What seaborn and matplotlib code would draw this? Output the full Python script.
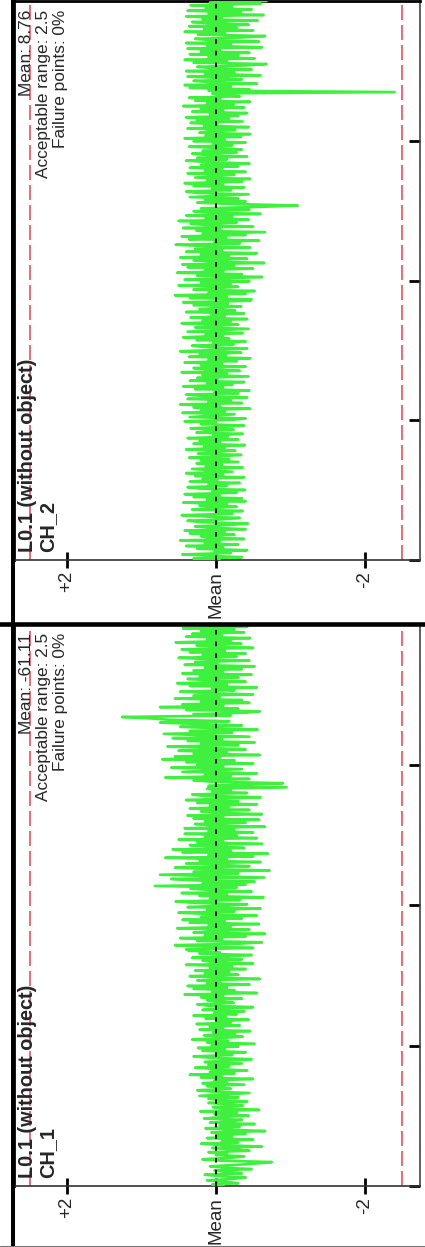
import matplotlib
matplotlib.use("Agg")
import matplotlib.pyplot as plt
import seaborn as sns
import numpy as np
from matplotlib.lines import Line2D

# ---------------- data (normalised deviation from mean, time order bottom->top) ----------------
ch1_values = [
    -0.10, 0.05, -0.30, -0.12, 0.12, -0.22, -0.40, -0.05, 0.15, -0.35, -0.18, 0.02, -0.48, -0.10, 0.08, -0.28, -0.55, -0.75, -0.05, 0.18,
    -0.20, -0.38, 0.00, -0.15, 0.10, -0.45, -0.25, 0.05, -0.62, -0.12, 0.20, -0.30, -0.08, -0.50, 0.12, -0.22, -0.02, -0.40, 0.06, -0.66,
    -0.15, 0.14, -0.32, -0.05, -0.52, 0.08, -0.20, -0.35, 0.16, -0.10, -0.44, 0.02, -0.28, 0.21, -0.58, -0.12, 0.04, -0.36, -0.18, 0.10,
    -0.42, -0.06,
    0.10, -0.30, 0.22, -0.12, -0.45, 0.05, 0.25, -0.20, -0.05, 0.12, -0.38, 0.18, -0.15, 0.02, -0.50, 0.20, -0.08, 0.35, -0.25, 0.08,
    -0.42, -0.02, 0.28, -0.18, 0.10, -0.35, 0.15, -0.10, -0.48, 0.05, 0.30, -0.22, 0.00, -0.40, 0.18, -0.12, 0.24, -0.30, 0.06, -0.52,
    0.12, -0.16, 0.32, -0.05, -0.36, 0.16, -0.26, 0.04, -0.46, 0.22, -0.10, 0.08, -0.32, 0.26, -0.20, -0.02, -0.44, 0.14, -0.14, 0.30,
    -0.28, 0.02, -0.38, 0.18, -0.06, -0.50, 0.10, 0.25, -0.24, -0.04, 0.12,
    -0.35, 0.20, -0.10, 0.42, -0.55, 0.05, -0.25, 0.30, -0.15, 0.38, -0.45, 0.12, -0.05, 0.25, -0.59, 0.00, 0.35, -0.30, 0.15, -0.18,
    0.28, -0.40, 0.08, -0.22, 0.40, -0.50, 0.02, 0.18, -0.35, 0.32, -0.12, -0.48, 0.22, -0.05, 0.36,
    0.40, -0.50, 0.10, 0.55, -0.30, -0.62, 0.25, -0.08, 0.48, -0.40, 0.15, -0.66, 0.30, 0.02, -0.45, 0.52, -0.20, 0.10, -0.58, 0.35,
    -0.12, 0.45, -0.35, 0.20, -0.55, 0.05, 0.50, -0.25, 0.12, -0.60, 0.38, -0.05, -0.42, 0.28, 0.54, -0.32, 0.08, -0.64, 0.22, -0.15,
    0.46, -0.48, 0.00, 0.34, -0.28, 0.82, -0.40, 0.18, -0.52, 0.30,
    0.60, -0.65, 0.05, 0.75, -0.30, 0.30, -0.72, 0.12, 0.55, -0.45, -0.05, 0.40, -0.60, 0.22, -0.15, 0.68, -0.50, 0.10, -0.70, 0.45,
    -0.20, 0.58, -0.38, 0.02, 0.35, -0.62, 0.25, -0.10, 0.50, -0.55, 0.15, -0.28, 0.42,
    -0.50, 0.10, -0.25, 0.42, -0.66, 0.05, 0.28, -0.40, 0.15, -0.58, 0.30, -0.10, 0.38, -0.62, 0.00, 0.20, -0.45, 0.35, -0.18, 0.08,
    -0.55, 0.25, -0.30, 0.40, -0.08, -0.60, 0.18, 0.32, -0.42, 0.05, -0.20, 0.12,
    -0.95, 0.10, -0.30, -0.90, 0.05,
    0.30, -0.45, 0.68, -0.20, 0.15, -0.55, 0.45, 0.05, -0.35, 0.60, -0.10, 0.25, -0.50, 0.40, -0.25, 0.72, -0.05, 0.55, -0.59, 0.30,
    -0.15, 0.50, -0.40, 0.10, 0.65, -0.30, 0.20, -0.52, 0.38, -0.08, 0.58, -0.45, 0.12, 0.70, -0.22, 0.35, -0.56, 0.02, 0.48, -0.35,
    0.25, 0.75, -0.18, 0.62, 0.89,
    1.26,
    -0.20, 0.30, -0.40, -0.59, 0.40, -0.30, 0.75, -0.10, 0.45, -0.45, 0.20, -0.35, 0.55, -0.05, 0.30, -0.50, 0.15, 0.48, -0.25, 0.05,
    -0.55, 0.35, -0.15, 0.52, -0.40, 0.10, 0.38, -0.30, 0.22, -0.48, 0.45, -0.10, 0.30, -0.35, 0.15, -0.52, 0.42, -0.02, 0.28, -0.45,
    0.08, 0.50, -0.28, 0.18, -0.40, 0.35, -0.12, 0.46, -0.50, 0.02, 0.26, -0.34, 0.54, -0.20, 0.12, -0.46, 0.40, -0.08, 0.32, -0.38,
    0.20, -0.25, 0.44, -0.42, 0.10, -0.15,
]

ch2_values = [
    -0.05, 0.30, -0.35, 0.10, 0.45, -0.20, 0.02, -0.42, 0.25, -0.10, 0.40, -0.30, 0.15, -0.05, 0.48, -0.38, 0.08, 0.20, -0.25, 0.35,
    -0.12, 0.42, -0.40, 0.05, 0.28, -0.18, -0.43, 0.18, 0.38, -0.08, -0.32, 0.12, 0.46, -0.22, 0.00, -0.36, 0.32, 0.10, -0.28, 0.22,
    -0.15, 0.44, -0.40,
    0.12, -0.35, 0.30, -0.05, 0.42, -0.28, 0.05, -0.39, 0.22, 0.38, -0.15, 0.10, -0.32, 0.35, -0.02, 0.18, -0.38, 0.28, -0.10, 0.40,
    -0.22, 0.06, 0.32, -0.36, 0.14, -0.08, 0.26, -0.30, 0.20, -0.18, 0.36, -0.02, -0.34, 0.24, 0.08, -0.26, 0.40, -0.12, 0.16, -0.39,
    0.30, -0.06, 0.22, -0.30, 0.38, -0.16, 0.04, -0.36, 0.26, 0.12, -0.24, 0.34, -0.10, -0.38, 0.20, 0.00, 0.42, -0.20,
    -0.40, 0.35, 0.05, -0.25, 0.45, -0.12, 0.20, -0.46, 0.30, -0.05, 0.48, -0.35, 0.10, -0.20, 0.38, -0.42, 0.15, 0.40, -0.30, 0.02,
    -0.45, 0.28, -0.10, 0.44, -0.22, 0.12, -0.38, 0.35, -0.02, 0.25, -0.44, 0.18, -0.15, 0.46, -0.32, 0.08, 0.30, -0.40, 0.20, -0.08,
    0.42, -0.28, 0.10, -0.46, 0.36, -0.14, 0.22, -0.34, 0.48, -0.06, -0.42, 0.16, 0.32, -0.24, 0.04, -0.40, 0.26, -0.18, 0.44, -0.10,
    0.14, -0.36, 0.38, -0.02, -0.44, 0.28, 0.08, -0.30, 0.46, -0.20, 0.18, -0.42, 0.34, -0.12, 0.06, -0.38, 0.40, -0.26, 0.22, -0.04,
    -0.34, 0.30, -0.16, 0.44, -0.46,
    -0.48, 0.35, -0.15, 0.55, -0.40, 0.10, -0.52, 0.30, 0.05, -0.30, 0.50, -0.20, 0.20, -0.45, 0.42, -0.05, -0.62, 0.25, -0.35, 0.52,
    -0.10, 0.15, -0.50, 0.38, -0.25, 0.45, -0.65, 0.05, 0.30, -0.42, 0.48, -0.18, 0.20, -0.55, 0.40, -0.08, 0.28, -0.46, 0.12, 0.54,
    -0.32, 0.02, -0.58, 0.36, -0.14, 0.46, -0.40, 0.18, -0.66, 0.26, -0.06, 0.44, -0.50, 0.08, 0.34, -0.28, 0.50, -0.44, 0.14, -0.22,
    0.40, -0.60, 0.06, 0.30,
    -0.45, 0.20, -0.55, -1.10, -0.30, 0.25, -0.40, 0.15,
    -0.30, 0.35, -0.05, -0.44, 0.25, 0.40, -0.20, 0.05, -0.38, 0.30, -0.10, 0.42, -0.35, 0.12, -0.46, 0.28, 0.02, -0.25, 0.38, -0.40,
    0.15, -0.08, 0.35, -0.30, 0.20, -0.45, 0.08, 0.40, -0.15, 0.25, -0.42, 0.10, 0.32, -0.28, 0.18, -0.35, -0.05, 0.36, -0.22, 0.04,
    -0.40, 0.30, -0.12, 0.42, -0.34, 0.14, -0.46, 0.22, 0.06, -0.26, 0.38, -0.44, 0.16, -0.02, 0.34, -0.36, 0.26, -0.18, 0.40, -0.30,
    0.08, -0.42, 0.32, -0.10, 0.20, -0.38, 0.44, -0.24, 0.12, -0.46, 0.28, -0.06, 0.36, -0.32, -0.05, 0.05,
    -2.40,
    0.10, -0.45, 0.35, -0.20, 0.42, -0.55, 0.05, 0.30, -0.35, -0.10, 0.38, -0.60, 0.15, -0.25, 0.40, -0.48, 0.02, 0.25, -0.40, -0.68,
    0.30, -0.15, 0.42, -0.52, 0.10, -0.30, 0.35, -0.45, 0.20, -0.05, 0.38, -0.62, 0.12, -0.20, 0.40, -0.58, 0.06, 0.28, -0.36, -0.66,
    0.24, -0.12, 0.42, -0.50, 0.16, -0.28, 0.36, -0.44, 0.04, 0.32, -0.56, 0.18, -0.08, 0.40, -0.64, 0.10, -0.34, 0.38, -0.48, 0.14,
    -0.22, 0.34, -0.60, 0.08, -0.68,
]

channels = ["CH_1", "CH_2"]
titles = ["L0.1 (without object)", "L0.1 (without object)"]
mean_texts = ["Mean: -61.11", "Mean: 8.76"]
acceptable_range = 2.5
failure_texts = ["Failure points: 0%", "Failure points: 0%"]
tick_values = [2, 0, -2]
tick_labels = ["+2", "Mean", "-2"]

# ---------------- style ----------------
sns.set_style("white")
plt.rcParams["font.family"] = ["Liberation Sans", "DejaVu Sans"]

W, H = 425, 1247
fig = plt.figure(figsize=(W / 100, H / 100), dpi=100)
fig.patch.set_facecolor("white")

def fx(px):
    return px / W

def fy(py):
    return (H - py) / H

GREEN = "#3ff03f"
RED = "#e25563"

# panel placement in pixel rows: (top, bottom of plotting area)
panel_rows = {"CH_1": (624, 1186), "CH_2": (1, 560)}
series = {"CH_1": ch1_values, "CH_2": ch2_values}

for ch, title, mtxt, ftxt in zip(channels, titles, mean_texts, failure_texts):
    top, bot = panel_rows[ch]
    ax = fig.add_axes([fx(14), fy(bot), fx(420) - fx(14), fy(top) - fy(bot)])
    vals = np.array(series[ch])
    t = np.arange(len(vals))

    ax.axvline(acceptable_range, color=RED, lw=1.2, ls=(0, (9, 3)), zorder=1)
    ax.axvline(-acceptable_range, color=RED, lw=1.2, ls=(0, (9, 3)), zorder=1)
    sns.lineplot(x=vals, y=t, sort=False, estimator=None, color=GREEN, lw=1.9, ax=ax, zorder=3)
    ax.axvline(0, color="black", lw=1.3, ls=(0, (2.5, 4)), zorder=4)

    ax.set_xlim(2.71, -2.74)
    ax.set_ylim(0, len(vals) - 1)
    ax.set_xlabel("")
    ax.set_ylabel("")
    ax.set_xticks(tick_values)
    ax.set_xticklabels(tick_labels, rotation=90, fontsize=13.5)
    ax.tick_params(axis="x", direction="inout", length=12, width=2, color="black", pad=2,
                   bottom=True, labelbottom=True)
    yt = (len(vals) - 1) * np.array([0, 0.25, 0.5, 0.75])
    ax.set_yticks(yt)
    ax.tick_params(axis="y", direction="in", length=8, width=2, color="black",
                   left=False, right=True, labelleft=False, labelright=False)

    for side in ["left", "top"]:
        ax.spines[side].set_color("black")
        ax.spines[side].set_linewidth(2)
    ax.spines["right"].set_color("#444444")
    ax.spines["right"].set_linewidth(1.2)
    ax.spines["bottom"].set_color("#333333")
    ax.spines["bottom"].set_linewidth(1.2)

    ph = bot - top
    pw = 406
    def ax_x(px):
        return (px - 14) / pw
    def ax_y(py):
        return (bot - py) / ph

    kw = dict(transform=ax.transAxes, rotation=90, rotation_mode="anchor", zorder=5)
    ax.text(ax_x(18), ax_y(bot - 8), title, ha="left", va="top", fontsize=14.3, fontweight="bold", **kw)
    ax.text(ax_x(38), ax_y(bot - 8), ch, ha="left", va="top", fontsize=14.3, fontweight="bold", **kw)
    yr = top + 9
    ax.text(ax_x(19), ax_y(yr), mtxt, ha="right", va="top", fontsize=12.4, **kw)
    ax.text(ax_x(36), ax_y(yr), f"Acceptable range: {acceptable_range:g}", ha="right", va="top",
            fontsize=12.4, **kw)
    ax.text(ax_x(53), ax_y(yr), ftxt, ha="right", va="top", fontsize=12.4, **kw)

# frame decorations
fig.add_artist(Line2D([0, 1], [fy(623.5)] * 2, transform=fig.transFigure, color="black", lw=3.3))
fig.add_artist(Line2D([fx(13)] * 2, [0, 1], transform=fig.transFigure, color="black", lw=2.9))
fig.add_artist(Line2D([0, 1], [fy(1246)] * 2, transform=fig.transFigure, color="#777777", lw=0.8))

fig.savefig("out.png", dpi=100, facecolor="white")
